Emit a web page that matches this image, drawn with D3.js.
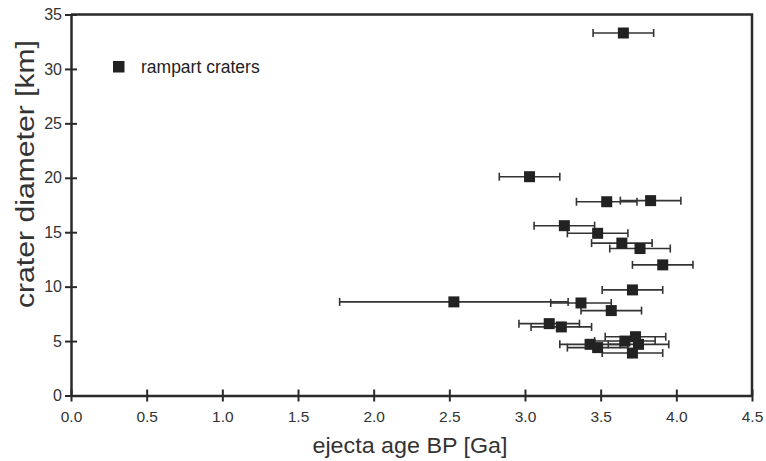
<!DOCTYPE html>
<html><head><meta charset="utf-8">
<script src="https://cdn.jsdelivr.net/npm/d3@7"></script>
<style>body{margin:0;background:#fff}</style>
</head><body>
<svg id="c" width="766" height="461"></svg>
<script>
const ages = [3.65, 3.03, 3.54, 3.83, 3.26, 3.48, 3.64, 3.76, 3.91, 3.71, 2.53, 3.37, 3.57, 3.16, 3.24, 3.73, 3.43, 3.48, 3.66, 3.75, 3.71];
const diameters = [33.3, 20.1, 17.8, 17.9, 15.6, 14.9, 14.0, 13.5, 12.0, 9.7, 8.6, 8.5, 7.8, 6.6, 6.3, 5.4, 4.7, 4.4, 5.0, 4.7, 3.9];
const ageErrors = [0.2, 0.2, 0.2, 0.2, 0.2, 0.2, 0.2, 0.2, 0.2, 0.2, 0.755, 0.2, 0.2, 0.2, 0.2, 0.2, 0.2, 0.2, 0.2, 0.2, 0.2];
const xTicks = [0, 0.5, 1.0, 1.5, 2.0, 2.5, 3.0, 3.5, 4.0, 4.5];
const yTicks = [0, 5, 10, 15, 20, 25, 30, 35];
const legendLabel = "rampart craters";
const xTitle = "ejecta age BP [Ga]";
const yTitle = "crater diameter [km]";

const data = ages.map((a, i) => ({age: a, d: diameters[i], e: ageErrors[i]}));
const svg = d3.select("#c");
const L = 71, R = 752, T = 14.5, B = 395.5;
const x = d3.scaleLinear().domain([0, 4.5]).range([L, R]);
const y = d3.scaleLinear().domain([0, 35]).range([B, T]);
const dark = "#2a2a2a";
const font = "'Liberation Sans',Arial,Helvetica,sans-serif";

// frame top/right
svg.append("path").attr("d", `M${L},${T}H${R}V${B}`).attr("fill","none").attr("stroke",dark).attr("stroke-width",2.5);

const xAxis = svg.append("g").attr("transform", `translate(0,${B})`)
  .call(d3.axisBottom(x).tickValues(xTicks).tickFormat(d3.format(".1f")).tickSize(5).tickSizeOuter(0));
xAxis.select(".domain").attr("stroke", dark).attr("stroke-width", 2.5);
xAxis.selectAll(".tick line").attr("stroke", dark).attr("stroke-width", 2).attr("y1", -6).attr("y2", 6);
xAxis.selectAll(".tick text").attr("font-family", font)
  .attr("font-size", 15.5).attr("fill", "#333").attr("y", 15);

const yAxis = svg.append("g").attr("transform", `translate(${L},0)`)
  .call(d3.axisLeft(y).tickValues(yTicks).tickSize(5).tickSizeOuter(0));
yAxis.select(".domain").attr("stroke", dark).attr("stroke-width", 2.5);
yAxis.selectAll(".tick line").attr("stroke", dark).attr("stroke-width", 2).attr("x1", -6).attr("x2", 6);
yAxis.selectAll(".tick text").attr("font-family", font)
  .attr("font-size", 16).attr("fill", "#333").attr("x", -9);

svg.append("text").attr("x", 410).attr("y", 453).attr("text-anchor", "middle")
  .attr("font-family", font).attr("font-size", 22).attr("fill", "#333")
  .attr("textLength", 195).attr("lengthAdjust", "spacingAndGlyphs").text(xTitle);
svg.append("text").attr("transform", `translate(34,174) rotate(-90)`).attr("text-anchor", "middle")
  .attr("font-family", font).attr("font-size", 25).attr("fill", "#333")
  .attr("textLength", 268).attr("lengthAdjust", "spacingAndGlyphs").text(yTitle);

// error bars
const eb = svg.append("g").attr("stroke", "#333").attr("stroke-width", 1.6);
data.forEach(p => {
  const yy = y(p.d);
  eb.append("line").attr("x1", x(p.age - p.e)).attr("x2", x(p.age + p.e)).attr("y1", yy).attr("y2", yy);
  [p.age - p.e, p.age + p.e].forEach(v => eb.append("line").attr("x1", x(v)).attr("x2", x(v)).attr("y1", yy - 4).attr("y2", yy + 4));
});
const s = 11;
svg.append("g").selectAll("rect").data(data).join("rect")
  .attr("x", p => x(p.age) - s / 2).attr("y", p => y(p.d) - s / 2).attr("width", s).attr("height", s).attr("fill", "#222");

// legend
svg.append("rect").attr("x", 113).attr("y", 61).attr("width", 11.5).attr("height", 11.5).attr("fill", "#222");
svg.append("text").attr("x", 141).attr("y", 72.5).attr("font-family", font)
  .attr("font-size", 17.5).attr("fill", "#222").text(legendLabel);
</script>
</body></html>
